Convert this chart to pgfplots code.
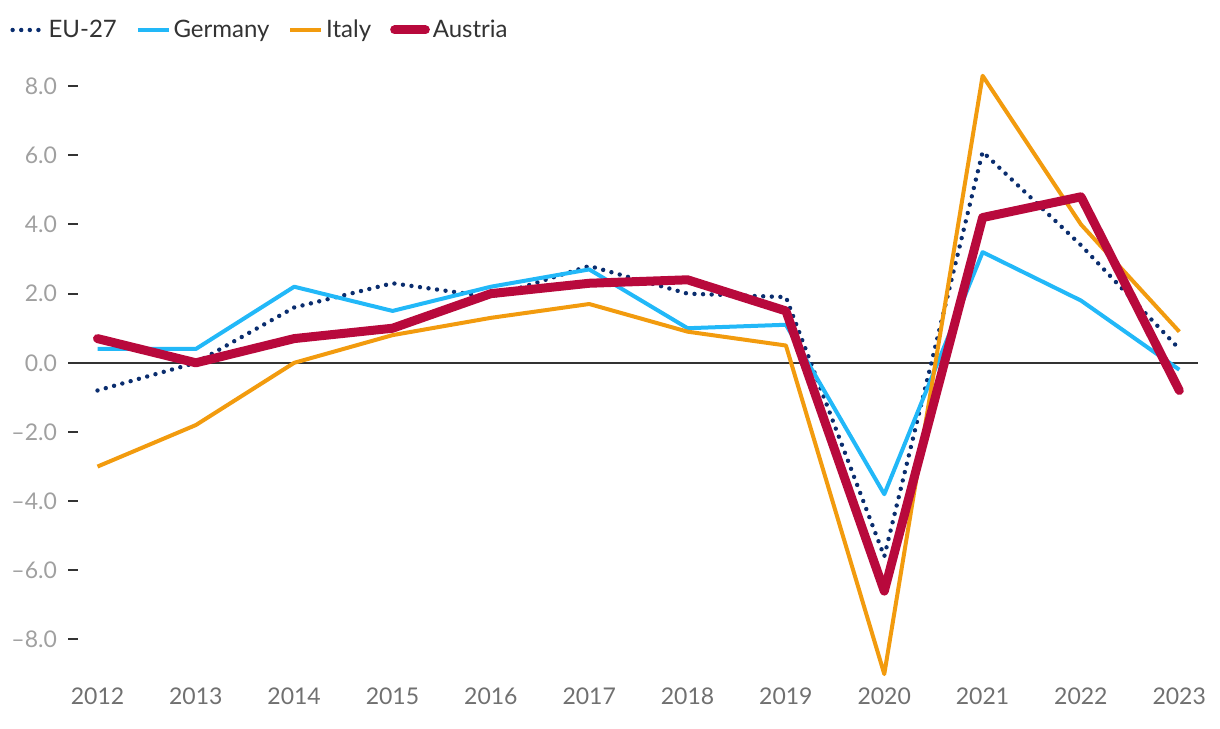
\documentclass[border=0pt]{standalone}
\usepackage{fontspec}
\setmainfont{Lato}
\usepackage{pgfplots}
\pgfplotsset{compat=1.18}

\definecolor{eucol}{HTML}{0A2D6E}
\definecolor{decol}{HTML}{22B8F8}
\definecolor{itcol}{HTML}{F29B0E}
\definecolor{atcol}{HTML}{B8093C}
\definecolor{ylab}{HTML}{A0A0A0}
\definecolor{xlab}{HTML}{707070}

\begin{document}
\begin{tikzpicture}
\begin{axis}[
    scale only axis,
    width=565pt, height=307.8pt,
    xmin=2011.7, xmax=2023.19,
    ymin=-9.2, ymax=8.6,
    axis x line*=bottom,
    x axis line style={draw=none},
    axis y line*=left,
    y axis line style={draw=none},
    xtick={2012,...,2023},
    xticklabels={2012,2013,2014,2015,2016,2017,2018,2019,2020,2021,2022,2023},
    xtick style={draw=none},
    xticklabel style={font=\fontsize{11.5}{13}\selectfont, text=xlab},
    ytick={-8,-6,...,8},
    yticklabels={–8.0,–6.0,–4.0,–2.0,0.0,2.0,4.0,6.0,8.0},
    yticklabel style={font=\fontsize{11.5}{13}\selectfont, text=ylab, xshift=-2pt},
    tick align=inside,
    major tick length=5pt,
    ytick style={black!80, line width=1pt},
    clip=false,
    legend style={at={(-0.0513,1.0575)}, anchor=west, draw=none, fill=none,
        inner sep=0pt, font=\fontsize{12}{14}\selectfont, text=black!80,
        nodes={inner xsep=1.5pt},
        /tikz/every even column/.append style={column sep=8pt}},
    legend columns=-1,
    legend image code/.code={\draw plot coordinates {(0cm,0cm) (0.27cm,0cm) (0.54cm,0cm)};},
    line join=round,
]
\draw[black!80, line width=1pt] ({rel axis cs:0,0}|-{axis cs:2012,0}) -- ({rel axis cs:1,0}|-{axis cs:2012,0});

\addplot[eucol, line width=2.2pt, line cap=round, dash pattern=on 0pt off 4.3pt] coordinates {
(2012,-0.8) (2013,0.0) (2014,1.6) (2015,2.3) (2016,1.9) (2017,2.8) (2018,2.0) (2019,1.9) (2020,-5.6) (2021,6.1) (2022,3.4) (2023,0.4)};
\addlegendentry{EU-27}

\addplot[decol, line width=2pt] coordinates {
(2012,0.4) (2013,0.4) (2014,2.2) (2015,1.5) (2016,2.2) (2017,2.7) (2018,1.0) (2019,1.1) (2020,-3.8) (2021,3.2) (2022,1.8) (2023,-0.2)};
\addlegendentry{Germany}

\addplot[itcol, line width=2pt] coordinates {
(2012,-3.0) (2013,-1.8) (2014,0.0) (2015,0.8) (2016,1.3) (2017,1.7) (2018,0.9) (2019,0.5) (2020,-9.0) (2021,8.3) (2022,4.0) (2023,0.9)};
\addlegendentry{Italy}

\addplot[atcol, line width=4.5pt, line cap=round] coordinates {
(2012,0.7) (2013,0.0) (2014,0.7) (2015,1.0) (2016,2.0) (2017,2.3) (2018,2.4) (2019,1.5) (2020,-6.6) (2021,4.2) (2022,4.8) (2023,-0.8)};
\addlegendentry{Austria}
\end{axis}
\pgfresetboundingbox
\path[use as bounding box] (-34pt,-23.5pt) rectangle (576pt,340.5pt);
\end{tikzpicture}
\end{document}
